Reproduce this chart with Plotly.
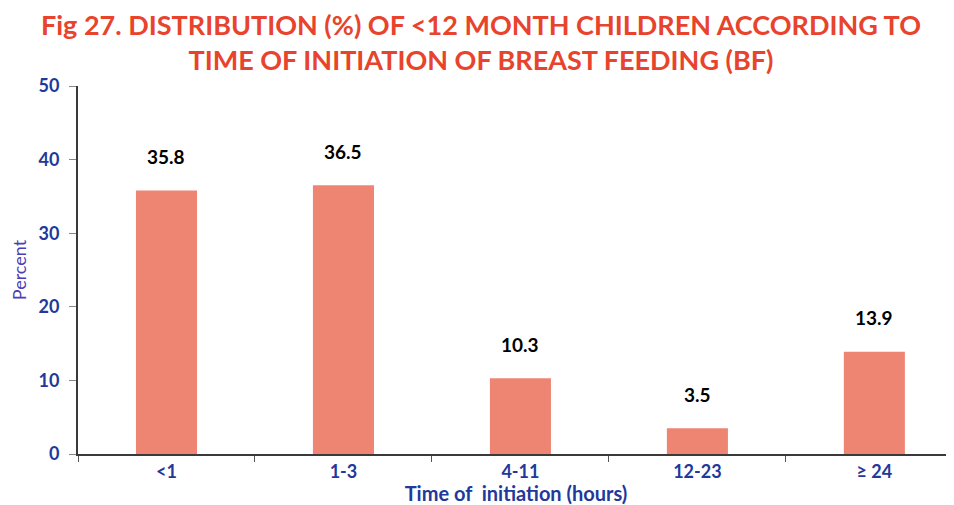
import plotly.graph_objects as go

# Data
categories = ['<1', '1-3', '4-11', '12-23', '≥ 24']
percent = [35.8, 36.5, 10.3, 3.5, 13.9]
value_labels = ['35.8', '36.5', '10.3', '3.5', '13.9']

blue = '#22389A'
bar_color = '#EE8472'
font_family = 'Lato'

fig = go.Figure()
fig.add_trace(go.Bar(
    x=categories, y=percent,
    marker=dict(color=bar_color, line=dict(width=0)),
    width=0.345,
    showlegend=False,
))

# value labels floating above each bar
for cat, val, lab in zip(categories, percent, value_labels):
    fig.add_annotation(x=cat, y=val, text='<b>' + lab + '</b>', showarrow=False,
                       yanchor='middle', yshift=34,
                       font=dict(family=font_family, size=19, color='black'))

# two-line heading as an annotation so it stays inside the page
fig.add_annotation(
    text='<b>Fig 27. DISTRIBUTION (%) OF &lt;12 MONTH CHILDREN ACCORDING TO<br>TIME OF INITIATION OF BREAST FEEDING (BF)</b>',
    xref='paper', yref='paper', x=0.46, y=1.12, xanchor='center', yanchor='middle',
    showarrow=False, font=dict(family=font_family, size=27, color='#E8432C'),
)

# page body has an 8px margin, so the figure is a bit smaller than the window
fig.update_layout(
    width=946, height=497,
    margin=dict(l=70, r=0, t=78, b=51),
    paper_bgcolor='white', plot_bgcolor='white',
)

fig.update_xaxes(
    range=[-0.5, 4.45],
    showline=True, linecolor='#3A3A3A', linewidth=2,
    ticks='outside', tickson='boundaries', ticklen=6, tickcolor='#555555',
    tickfont=dict(family=font_family, size=18, color=blue, weight='bold'),
    title=dict(text='<b>Time of  initiation (hours)</b>', standoff=0,
               font=dict(family=font_family, size=20, color=blue)),
    showgrid=False, automargin=False,
)
fig.update_yaxes(
    range=[0, 50], dtick=10,
    showline=True, linecolor='#3A3A3A', linewidth=2,
    ticks='outside', ticklen=7, tickcolor='#888888', ticklabelstandoff=6,
    tickfont=dict(family=font_family, size=18, color=blue, weight='bold'),
    title=dict(text='Percent', standoff=8,
               font=dict(family=font_family, size=18, color='#4A3FB5')),
    showgrid=False, zeroline=False, automargin=False,
)

fig.write_html('out.html')
